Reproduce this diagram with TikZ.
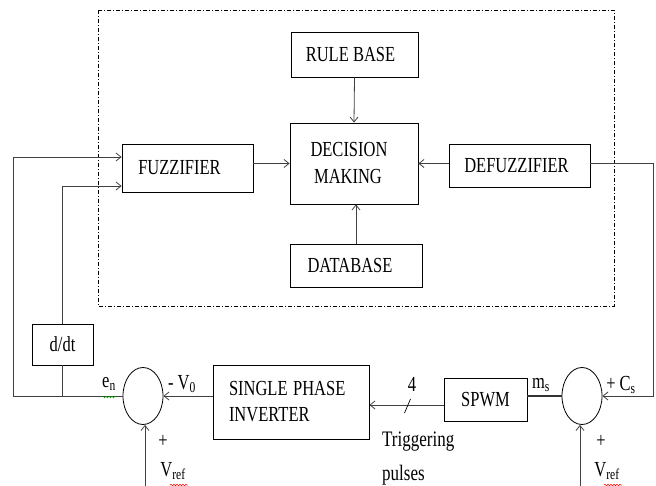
\documentclass[tikz,border=0pt]{standalone}
\usepackage{fontspec}
\setmainfont{Liberation Serif}
\usepackage{graphicx}
\usetikzlibrary{arrows.meta,decorations.pathmorphing,shapes.geometric}
\newcommand\vs[1]{\scalebox{1}[1.3]{#1}}
\newcommand\lft[2]{\vs{#1}\kern#2pt\relax}
\begin{document}
\begin{tikzpicture}[x=1pt,y=-1pt,
  every node/.style={font=\fontsize{16.5}{20}\selectfont},
  blk/.style={draw, line width=0.8pt, rectangle, inner sep=0pt},
  sumc/.style={draw, line width=0.8pt, ellipse, minimum width=40pt, minimum height=57pt, inner sep=0pt},
  conn/.style={line width=0.8pt, draw=black!75},
  arr/.style={conn, -{Straight Barb[length=5pt,width=8pt]}},
  lbl/.style={inner sep=0pt},
  ctrl/.style={line width=0.7pt, dash pattern=on 4pt off 2pt on 1pt off 2pt}
]
\useasboundingbox (0,0) rectangle (656,486);
\draw[ctrl] (98,10) rectangle (614,306);

\node[blk, minimum width=127pt, minimum height=45pt] (rule) at (354.5,54.5) {\lft{RULE BASE}{8}};
\node[blk, minimum width=128pt, minimum height=81pt, align=center, font=\fontsize{16.5}{27}\selectfont] (dm) at (354,163.5) {\lft{DECISION}{10}\\\lft{MAKING}{12}};
\node[blk, minimum width=131pt, minimum height=48pt] (fuzz) at (187.5,168) {\lft{FUZZIFIER}{16}};
\node[blk, minimum width=141pt, minimum height=43pt] (defuzz) at (519.5,165.5) {\lft{DEFUZZIFIER}{6}};
\node[blk, minimum width=132pt, minimum height=43pt] (db) at (356,265.5) {\lft{DATABASE}{12}};
\node[blk, minimum width=61pt, minimum height=41pt] (ddt) at (62.5,344.5) {\vs{d/dt}};
\node[blk, minimum width=156pt, minimum height=74pt, text width=124pt, inner xsep=16pt, align=left, font=\fontsize{16.5}{26}\selectfont] (inv) at (291,402) {\vs{SINGLE PHASE}\\\vs{INVERTER}};
\node[blk, minimum width=83pt, minimum height=43pt] (spwm) at (485.5,399.5) {\vs{SPWM}};
\node[sumc] (cl) at (143,396) {};
\node[sumc] (cr) at (582,396) {};

\coordinate (lcorner) at (13,157);
\coordinate (rcorner) at (653,163);
\coordinate (vrefl) at (145,486);
\coordinate (vrefr) at (580,486);

% fuzzy core
\draw[arr] (rule.south) -- (dm.north);
\draw[arr] (db.north) -- (db.north |- dm.south);
\draw[arr] (fuzz.east |- dm.west) -- (dm.west);
\draw[arr] (defuzz.west |- dm.east) -- (dm.east);

% defuzzifier output to right summer
\draw[arr] (defuzz.east |- rcorner) -- (rcorner) -- (rcorner |- cr.east) -- (cr.east);

% right summer to SPWM
\draw[line width=1.6pt, draw=black!80] (cr.west) -- (cr.west -| spwm.east);

% SPWM to inverter
\draw[arr] ([yshift=-5.5pt]spwm.west) -- ([yshift=-5.5pt]spwm.west -| inv.east);
\coordinate (tk) at (409,405);
\draw[line width=0.7pt] ([xshift=-4.5pt,yshift=-8pt]tk) -- ([xshift=1.5pt,yshift=6pt]tk);

% inverter to left summer
\draw[arr] (inv.west |- cl.east) -- (cl.east);

% feedback to fuzzifier
\draw[arr] (cl.west) -- (cl.west -| lcorner) -- (lcorner) -- ([yshift=11pt]fuzz.west);
\coordinate (jn) at (ddt.south |- cl.west);
\draw[conn] (jn) -- (ddt.south);
\draw[arr] (ddt.north) -- (ddt.north |- 0,186) -- ([yshift=-18pt]fuzz.west);

% reference inputs
\draw[arr] (vrefl) -- (vrefl |- cl.south);
\draw[arr] (vrefr) -- (vrefr |- cr.south);

% labels
\node[lbl] (en) at (109,384) {\vs{e\textsubscript{n}}};
\draw[green!60!black, line width=0.5pt, decorate, decoration={snake, amplitude=0.8pt, segment length=3pt}] (102,397) -- (116,397);
\node[lbl] (vo) at (182,384) {\vs{- V\textsubscript{0}}};
\node[lbl] (pl) at (163,441) {\vs{+}};
\node[lbl] (vrl) at (173,471) {\vs{V\textsubscript{ref}}};
\draw[red, line width=0.5pt, decorate, decoration={snake, amplitude=0.8pt, segment length=3pt}] (170,485) -- (188,485);
\node[lbl] (four) at (412,384) {\vs{4}};
\node[lbl, align=left, anchor=north west, font=\fontsize{17}{34}\selectfont] (trig) at (382,432) {\vs{Triggering}\\\vs{pulses}};
\node[lbl] (ms) at (541,385) {\vs{m\textsubscript{s}}};
\node[lbl] (cs) at (621,385) {\vs{+ C\textsubscript{s}}};
\node[lbl] (pr) at (601,441) {\vs{+}};
\node[lbl] (vrr) at (607,471) {\vs{V\textsubscript{ref}}};
\draw[red, line width=0.5pt, decorate, decoration={snake, amplitude=0.8pt, segment length=3pt}] (604,485) -- (622,485);
\end{tikzpicture}
\end{document}
